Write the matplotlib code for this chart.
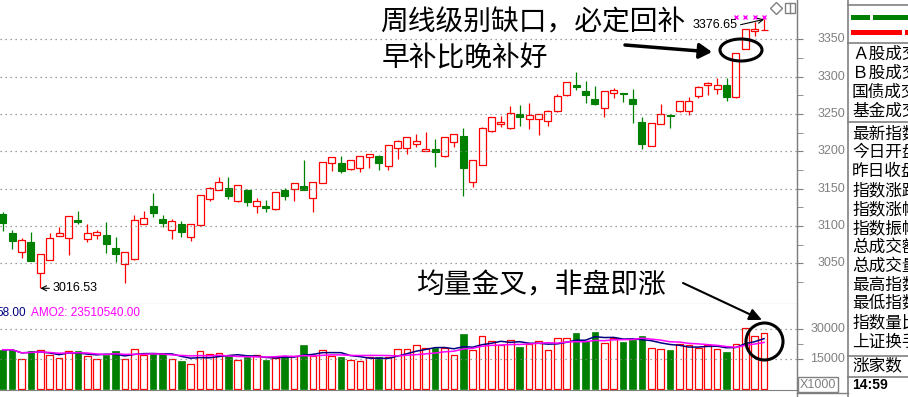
import numpy as np
import pandas as pd
import matplotlib
matplotlib.use("Agg")
import matplotlib.pyplot as plt
from matplotlib.patches import Ellipse, Rectangle
from matplotlib.ticker import FixedLocator

plt.rcParams['font.family'] = ['Noto Sans CJK SC', 'DejaVu Sans']

# 日K线数据 (开, 高, 低, 收)
opens = [3116.1, 3090.6, 3064.7, 3078.1, 3036.6, 3054.0, 3086.2, 3083.5, 3108.0, 3082.1,
         3087.5, 3088.0, 3070.5, 3048.7, 3055.4, 3102.2, 3126.8, 3109.4, 3094.2, 3102.7,
         3084.8, 3100.9, 3135.7, 3147.8, 3150.4, 3133.9, 3148.2, 3126.3, 3126.3, 3122.3,
         3147.8, 3149.1, 3153.6, 3138.0, 3157.1, 3183.9, 3183.9, 3175.9, 3177.2, 3192.0,
         3193.8, 3179.9, 3204.0, 3204.0, 3209.4, 3200.9, 3202.7, 3193.3, 3212.1, 3220.5,
         3159.4, 3181.3, 3227.7, 3237.0, 3230.8, 3250.4, 3243.8, 3243.8, 3240.2, 3254.0,
         3275.0, 3288.4, 3280.8, 3270.1, 3257.6, 3277.7, 3277.7, 3270.1, 3238.8, 3207.1,
         3236.6, 3248.7, 3253.6, 3253.6, 3274.6, 3288.4, 3283.9, 3288.4, 3272.3, 3337.1,
         3361.2, 3362.0]
highs = [3118.8, 3094.6, 3083.9, 3092.0, 3062.5, 3090.6, 3098.2, 3113.5, 3120.1, 3102.2,
         3094.6, 3105.4, 3085.3, 3065.0, 3114.7, 3120.1, 3144.6, 3114.7, 3109.4, 3106.7,
         3102.5, 3141.5, 3152.2, 3165.6, 3165.6, 3155.0, 3149.6, 3137.0, 3134.8, 3145.5,
         3150.9, 3157.5, 3188.4, 3159.0, 3186.0, 3192.5, 3193.8, 3188.0, 3193.5, 3197.0,
         3195.1, 3208.5, 3215.2, 3219.5, 3223.2, 3225.9, 3216.5, 3219.5, 3223.0, 3231.7,
         3188.0, 3232.0, 3246.0, 3247.3, 3260.7, 3262.5, 3264.7, 3250.5, 3255.4, 3276.3,
         3293.0, 3306.3, 3294.2, 3287.1, 3281.0, 3284.8, 3278.0, 3283.0, 3246.4, 3238.0,
         3263.4, 3249.6, 3268.0, 3273.2, 3287.0, 3292.9, 3297.8, 3297.8, 3332.0, 3364.0,
         3372.8, 3376.65]
lows = [3093.8, 3069.6, 3057.6, 3053.4, 3016.53, 3053.8, 3086.0, 3061.6, 3102.7, 3079.0,
        3083.0, 3064.3, 3052.2, 3024.1, 3055.0, 3102.0, 3112.5, 3099.1, 3082.6, 3085.7,
        3080.4, 3100.5, 3133.5, 3147.5, 3136.2, 3132.6, 3127.2, 3117.9, 3119.2, 3122.0,
        3134.8, 3133.5, 3148.5, 3119.2, 3157.0, 3174.1, 3171.4, 3175.5, 3172.8, 3178.1,
        3175.0, 3175.4, 3190.2, 3196.9, 3205.8, 3200.5, 3179.5, 3192.0, 3206.3, 3140.6,
        3151.8, 3181.0, 3226.3, 3232.6, 3230.5, 3233.9, 3229.5, 3221.9, 3234.4, 3252.2,
        3274.5, 3282.6, 3264.3, 3262.1, 3245.5, 3271.0, 3266.1, 3237.5, 3202.7, 3206.5,
        3236.0, 3230.8, 3253.0, 3249.1, 3271.9, 3275.9, 3276.3, 3267.9, 3272.0, 3337.0,
        3354.9, 3362.0]
closes = [3104.5, 3080.4, 3081.2, 3053.6, 3062.1, 3083.5, 3090.2, 3113.0, 3105.8, 3090.2,
          3091.5, 3076.3, 3063.0, 3064.7, 3107.6, 3110.3, 3117.9, 3104.5, 3106.7, 3092.4,
          3102.2, 3141.1, 3150.4, 3158.5, 3140.6, 3154.5, 3132.6, 3133.0, 3124.6, 3145.1,
          3140.6, 3157.1, 3148.7, 3158.5, 3185.3, 3192.0, 3174.1, 3187.9, 3193.3, 3196.4,
          3183.9, 3208.0, 3213.8, 3219.2, 3213.4, 3202.7, 3198.7, 3219.2, 3222.8, 3178.1,
          3187.9, 3231.3, 3245.5, 3239.3, 3250.9, 3245.5, 3248.7, 3250.0, 3254.0, 3274.1,
          3292.4, 3286.2, 3275.0, 3263.8, 3280.8, 3282.1, 3277.3, 3262.9, 3210.3, 3237.5,
          3250.4, 3247.8, 3267.9, 3267.9, 3286.6, 3291.1, 3288.4, 3273.2, 3331.3, 3363.4,
          3363.8, 3362.9]
# 成交量 (X1000)
volumes = [19778, 19778, 15175, 18926, 19778, 17050, 15686, 19267, 19267, 16709,
           15175, 17221, 19267, 15175, 20290, 17221, 17562, 18244, 15175, 14152,
           12617, 19096, 17732, 18244, 16709, 14663, 16368, 17221, 14663, 15516,
           16539, 16539, 21995, 16709, 19778, 16709, 16368, 14663, 14152, 16027,
           16368, 16027, 20290, 20290, 22336, 20631, 20631, 20631, 17050, 27450,
           19608, 26769, 24211, 21995, 24723, 21313, 22847, 24211, 19778, 25405,
           25405, 27962, 24211, 28474, 23359, 25746, 23870, 24723, 26428, 20801,
           20290, 19778, 22677, 21995, 20801, 21995, 20290, 18755, 22677, 30520,
           26769, 27962]

price_ticks = [3050, 3100, 3150, 3200, 3250, 3300, 3350]
vol_ticks = [15000, 30000]
low_idx, low_val = 4, 3016.53
high_idx, high_val = 81, 3376.65
signal_idx = [78, 79, 80, 81]

panel_group1 = ["Ａ股成交额", "Ｂ股成交额", "国债成交额", "基金成交额"]
panel_group2 = ["最新指数", "今日开盘", "昨日收盘", "指数涨跌", "指数涨幅", "指数振幅",
                "总成交额", "总成交量", "最高指数", "最低指数", "指数量比", "上证换手"]

RED = '#FF0000'
GREEN = '#008000'
GREY = '#808080'
W, H = 908, 397

fig = plt.figure(figsize=(W / 100, H / 100), dpi=100)
fig.patch.set_facecolor('white')

ax = fig.add_axes([0, 1 - 304 / H, 797 / W, 304 / H])
axv = fig.add_axes([0, 1 - 390 / H, 797 / W, 86 / H])

x = np.arange(len(opens))
o = np.array(opens)
h = np.array(highs)
l = np.array(lows)
c = np.array(closes)
v = np.array(volumes)
up = c >= o
lo = np.minimum(o, c)
hi = np.maximum(o, c)

# K线
ax.vlines(x[~up], l[~up], h[~up], color=GREEN, lw=0.9)
ax.bar(x[~up], hi[~up] - lo[~up], bottom=lo[~up], width=0.74, color=GREEN, edgecolor=GREEN, lw=0.8)
ax.vlines(x[up], hi[up], h[up], color=RED, lw=0.9)
ax.vlines(x[up], l[up], lo[up], color=RED, lw=0.9)
ax.bar(x[up], hi[up] - lo[up], bottom=lo[up], width=0.74, facecolor='white', edgecolor=RED, lw=0.9)

xlim = (-0.29, 84.5)
ax.set_xlim(*xlim)
ax.set_ylim(2995.5, 3402.6)
ax.set_xticks([])
ax.yaxis.tick_right()
ax.yaxis.set_major_locator(FixedLocator(price_ticks))
ax.yaxis.set_minor_locator(FixedLocator([p - 25 for p in price_ticks]))
ax.tick_params(axis='y', which='both', length=4, color=GREY, labelright=False, labelleft=False)
ax.grid(axis='y', which='major', color=GREY, linestyle=(0, (1, 3)), lw=0.9)
for s in ['top', 'left']:
    ax.spines[s].set_visible(False)
for s in ['right', 'bottom']:
    ax.spines[s].set_color(GREY)
for p in price_ticks:
    ax.text(845 / 797, p, str(p), transform=ax.get_yaxis_transform(), ha='right', va='center',
            fontsize=9, color=GREY, family='Liberation Sans', clip_on=False)

# 最低/最高标注
ax.annotate(f"{low_val:.2f}", xy=(low_idx, low_val), xytext=(low_idx + 1.25, low_val),
            ha='left', va='center', fontsize=9, family='Liberation Sans',
            arrowprops=dict(arrowstyle='->', lw=0.8, color='black', shrinkA=0, shrinkB=0, relpos=(0, 0.5)))
ax.annotate(f"{high_val:.2f}", xy=(high_idx, high_val), xytext=(high_idx - 2.8, high_val - 8),
            ha='right', va='center', fontsize=9, family='Liberation Sans',
            arrowprops=dict(arrowstyle='->', lw=0.8, color='black', shrinkA=0, shrinkB=0, relpos=(1, 0.5)))
ax.plot(signal_idx, [0.943] * len(signal_idx), 'x', color='#FF00FF', ms=3.5, mew=1,
        transform=ax.get_xaxis_transform(), clip_on=False)

# 成交量
axv.bar(x[up], v[up], width=0.7, facecolor='white', edgecolor=RED, lw=0.9)
axv.bar(x[~up], v[~up], width=0.7, color=GREEN, edgecolor=GREEN, lw=0.5)
ma5 = pd.Series(volumes).rolling(5, min_periods=1).mean()
ma10 = pd.Series(volumes).rolling(10, min_periods=1).mean()
axv.plot(x, ma5, color='#000080', lw=1.1)
axv.plot(x, ma10, color='#FF00FF', lw=1.1)
axv.set_xlim(*xlim)
axv.set_ylim(-350, 42650)
axv.set_xticks([])
axv.yaxis.tick_right()
axv.yaxis.set_major_locator(FixedLocator(vol_ticks))
axv.yaxis.set_minor_locator(FixedLocator([22500]))
axv.tick_params(axis='y', which='both', length=4, color=GREY, labelright=False, labelleft=False)
axv.grid(axis='y', which='major', color=GREY, linestyle=(0, (1, 3)), lw=0.9)
for s in ['top', 'left']:
    axv.spines[s].set_visible(False)
for s in ['right', 'bottom']:
    axv.spines[s].set_color(GREY)
for t in vol_ticks:
    axv.text(845 / 797, t, str(t), transform=axv.get_yaxis_transform(), ha='right', va='center',
             fontsize=9, color=GREY, family='Liberation Sans', clip_on=False)

# 覆盖层 (像素坐标)
ov = fig.add_axes([0, 0, 1, 1], zorder=10)
ov.set_xlim(0, W)
ov.set_ylim(H, 0)
ov.axis('off')
ov.patch.set_alpha(0)

ov.text(26, 313, "58.00", color='#000080', fontsize=8.5, family='Liberation Sans', va='center', ha='right')
ov.text(31, 313, "AMO2: 23510540.00", color='#FF00FF', fontsize=8.5, family='Liberation Sans', va='center', ha='left')

ov.plot([797, 797], [0, H], color=GREY, lw=1)
ov.plot([847.5, 847.5], [0, H], color=GREY, lw=1.2)
for yy in [5, 43, 122, 356, 377]:
    ov.plot([847.5, W], [yy, yy], color=GREY, lw=1.2)
ov.plot([797, 847.5], [393, 393], color=GREY, lw=1)
ov.add_patch(Rectangle((798, 377), 40, 15, fill=False, ec=GREY, lw=1))
ov.text(818, 384.5, "X1000", color=GREY, fontsize=9, family='Liberation Sans', ha='center', va='center')

ov.plot([776], [8], marker='D', ms=6, mfc='none', mec=GREY, mew=1)
ov.add_patch(Rectangle((785, 3), 10, 10, fill=False, ec=GREY, lw=1))
ov.plot([790, 790], [3, 13], color=GREY, lw=1)

ov.add_patch(Rectangle((851, 14.5), 19, 5, color=GREEN, lw=0))
ov.add_patch(Rectangle((873, 14.5), 35, 5, color=GREEN, lw=0))
ov.add_patch(Rectangle((851, 29.5), 51, 5, color=RED, lw=0))
ov.add_patch(Rectangle((905, 29.5), 3, 5, color=RED, lw=0))

# 右侧信息栏 (文字在右边缘被截断, 与原图一致)
pn = fig.add_axes([848 / W, 0, 60 / W, 1], zorder=11)
pn.set_xlim(848, W)
pn.set_ylim(H, 0)
pn.axis('off')
pn.patch.set_alpha(0)
for i, name in enumerate(panel_group1):
    pn.text(852, 54 + i * 19.1, name, fontsize=12, va='center', ha='left', clip_on=True)
for i, name in enumerate(panel_group2):
    pn.text(852, 134 + i * 18.9, name, fontsize=12, va='center', ha='left', clip_on=True)
pn.text(852, 366, "涨家数", fontsize=12, va='center', ha='left', clip_on=True)
pn.text(852, 385, "14:59", fontsize=10, fontweight='bold', family='Liberation Sans', va='center', ha='left')

# 文字注释
ov.text(380, 22, "周线级别缺口，必定回补", fontsize=20, va='center', ha='left')
ov.text(382, 58, "早补比晚补好", fontsize=20, va='center', ha='left')
ov.text(417, 285, "均量金叉，非盘即涨", fontsize=20, va='center', ha='left')
ov.annotate('', xy=(712, 52), xytext=(625, 45),
            arrowprops=dict(arrowstyle='-|>,head_length=0.75,head_width=0.45', lw=2.5, color='black',
                            shrinkA=0, shrinkB=0))
ov.annotate('', xy=(762, 320), xytext=(683, 283),
            arrowprops=dict(arrowstyle='-|>,head_length=0.75,head_width=0.35', lw=1.5, color='black',
                            shrinkA=0, shrinkB=0))
ov.add_patch(Ellipse((741, 50), 42, 22, fill=False, ec='black', lw=2.2))
ov.add_patch(Ellipse((764.5, 341.5), 37, 37, fill=False, ec='black', lw=2.2))

fig.savefig('out.png', dpi=100)
